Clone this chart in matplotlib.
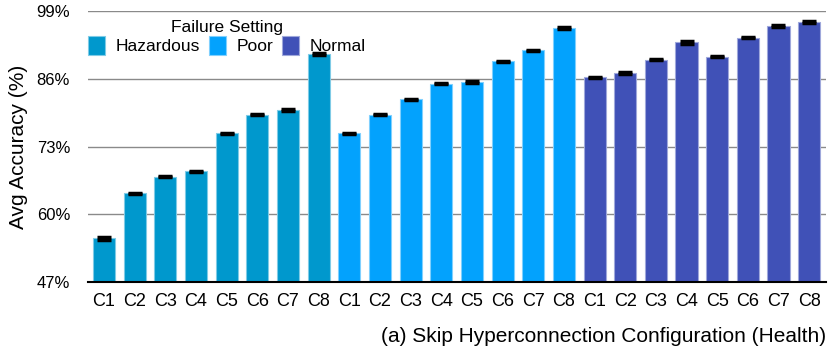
import numpy as np
import matplotlib.pyplot as plt

plt.rcParams['font.family'] = ['Liberation Sans', 'DejaVu Sans']

configs = ['C1', 'C2', 'C3', 'C4', 'C5', 'C6', 'C7', 'C8']
settings = ['Hazardous', 'Poor', 'Normal']
colors = ['#0098cd', '#03a2fd', '#4051b7']
edge_colors = ['#7fcbe6', '#80d0fe', '#9fa8db']

hazardous = [55.4, 64.1, 67.2, 68.3, 75.6, 79.1, 80.0, 90.8]
poor = [75.6, 79.1, 82.1, 85.1, 85.5, 89.4, 91.5, 95.8]
normal = [86.3, 87.2, 89.7, 93.0, 90.3, 93.9, 96.1, 97.0]

hazardous_err = [0.3, 0.1, 0.1, 0.1, 0.1, 0.1, 0.15, 0.2]
poor_err = [0.1, 0.1, 0.1, 0.1, 0.2, 0.1, 0.15, 0.2]
normal_err = [0.1, 0.2, 0.1, 0.2, 0.15, 0.1, 0.2, 0.2]

yticks = [47, 60, 73, 86, 99]

fig, ax = plt.subplots(figsize=(8.31, 3.51), dpi=100)
fig.subplots_adjust(left=0.106, right=0.994, top=0.968, bottom=0.196)

all_vals = [hazardous, poor, normal]
all_errs = [hazardous_err, poor_err, normal_err]
for i, (vals, errs) in enumerate(zip(all_vals, all_errs)):
    x = np.arange(len(configs)) + i * len(configs)
    ax.bar(x, vals, width=0.72, color=colors[i], edgecolor=edge_colors[i],
           linewidth=0.8, label=settings[i], zorder=2)
    ax.errorbar(x, vals, yerr=errs, fmt='none', ecolor='black',
                elinewidth=2, capsize=5, capthick=2.5, zorder=3)

ax.set_xticks(np.arange(24))
ax.set_xticklabels(configs * 3, fontsize=13)
ax.set_xlim(-0.52, 23.55)
ax.set_ylim(47, 99)
ax.set_yticks(yticks)
ax.set_yticklabels([f'{t}%' for t in yticks], fontsize=12)
ax.tick_params(axis='x', length=0, pad=8)
ax.tick_params(axis='y', length=0, pad=13)
ax.yaxis.grid(True, color='#8a8a8a', linewidth=1, zorder=0)
ax.set_axisbelow(True)
for s in ['top', 'right', 'left']:
    ax.spines[s].set_visible(False)
ax.spines['bottom'].set_linewidth(1.5)

ax.set_ylabel('Avg Accuracy (%)', fontsize=15, labelpad=6)
ax.set_xlabel('(a) Skip Hyperconnection Configuration (Health)', fontsize=15,
              loc='right', labelpad=12)

leg = ax.legend(title='Failure Setting', ncol=3, loc='upper left',
                bbox_to_anchor=(-0.012, 1.0), frameon=False, fontsize=12.5,
                title_fontsize=12.5, handlelength=1.0, handleheight=1.3,
                columnspacing=0.5, handletextpad=0.6, borderaxespad=0.1,
                labelspacing=0.05)

fig.savefig('out.png', dpi=100)
